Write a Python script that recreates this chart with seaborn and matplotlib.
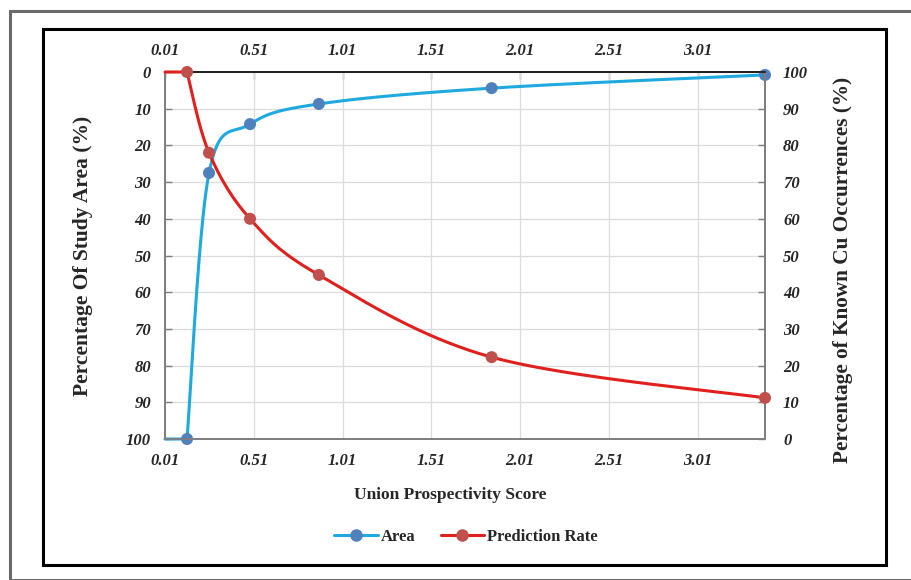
import numpy as np
import pandas as pd
import seaborn as sns
import matplotlib
matplotlib.use("Agg")
import matplotlib.pyplot as plt
from matplotlib.patches import Rectangle
from matplotlib.lines import Line2D

# ---- data ----
score = [0.01, 0.134, 0.258, 0.489, 0.877, 1.85, 3.39]
area_pct = [100, 100, 27.5, 14.2, 8.7, 4.4, 0.8]
pred_rate = [100, 100, 78, 60, 44.7, 22.3, 11.2]
x_ticks = [0.01, 0.51, 1.01, 1.51, 2.01, 2.51, 3.01]
x_ticklabels = ["0.01", "0.51", "1.01", "1.51", "2.01", "2.51", "3.01"]
y_ticks = list(range(0, 101, 10))

sns.set_theme(style="white")
plt.rcParams['font.family'] = ['Liberation Serif', 'DejaVu Serif']

W, H = 912, 580
fig = plt.figure(figsize=(W / 100, H / 100), dpi=100)

# outer frames
fig.patches.append(Rectangle((10 / W, 0), 1.2, 1 - 11 / H, transform=fig.transFigure,
                             fill=False, edgecolor="#6a6a6a", lw=2.2))
fig.patches.append(Rectangle((43 / W, 1 - 565 / H), (886 - 43) / W, (565 - 29) / H,
                             transform=fig.transFigure, fill=False, edgecolor="black", lw=2.2))

L, R, T, B = 165, 765, 72, 439
ax = fig.add_axes([L / W, 1 - B / H, (R - L) / W, (B - T) / H])
ax2 = ax.twinx()

xmin, xmax = 0.01, 3.39


def smooth(xs, ys, ylo, yhi, n=40):
    # straight first step, then Bezier smoothing in normalized axis space (Excel-like)
    px = (np.asarray(xs) - xmin) / (xmax - xmin)
    py = (np.asarray(ys, float) - ylo) / (yhi - ylo) * (B - T) / (R - L)
    P = np.column_stack([px, py])
    out = [P[:1]]
    Q = P[1:]
    m = len(Q)
    for i in range(m - 1):
        p0, p3 = Q[i], Q[i + 1]
        prev = Q[i - 1] if i > 0 else Q[i]
        nxt = Q[i + 2] if i + 2 < m else Q[i + 1]
        c1 = p0 + (p3 - prev) / 6
        c2 = p3 - (nxt - p0) / 6
        t = np.linspace(0, 1, n)[:, None]
        seg = ((1 - t) ** 3) * p0 + 3 * ((1 - t) ** 2) * t * c1 + 3 * (1 - t) * t ** 2 * c2 + t ** 3 * p3
        out.append(seg)
    S = np.vstack(out)
    sx = S[:, 0] * (xmax - xmin) + xmin
    sy = S[:, 1] * (R - L) / (B - T) * (yhi - ylo) + ylo
    return sx, sy


blue_line, blue_mk = "#1ea9df", "#4f81bd"
red_line, red_mk = "#e0201c", "#c0504d"

sx, sy = smooth(score, area_pct, 0, 100)
ax.plot(sx, sy, color=blue_line, lw=2.2, zorder=3, clip_on=False)
df_a = pd.DataFrame({"x": score[1:], "y": area_pct[1:]})
sns.scatterplot(data=df_a, x="x", y="y", ax=ax, color=blue_mk, s=75, edgecolor="none",
                zorder=4, clip_on=False, legend=False)

sx2, sy2 = smooth(score, pred_rate, 0, 100)
ax2.plot(sx2, sy2, color=red_line, lw=2.2, zorder=3, clip_on=False)
df_p = pd.DataFrame({"x": score[1:], "y": pred_rate[1:]})
sns.scatterplot(data=df_p, x="x", y="y", ax=ax2, color=red_mk, s=75, edgecolor="none",
                zorder=4, clip_on=False, legend=False)

ax.set_xlim(xmin, xmax)
ax.set_ylim(100, 0)
ax2.set_ylim(0, 100)

tick_font = dict(family='Liberation Serif', weight='bold', style='italic', size=12)

ax.set_xticks(x_ticks)
ax.set_xticklabels(x_ticklabels, fontdict=tick_font)
ax.set_yticks(y_ticks)
ax.set_yticklabels([str(v) for v in y_ticks], fontdict=tick_font)
ax2.set_yticks(y_ticks)
ax2.set_yticklabels([str(v) for v in y_ticks], fontdict=tick_font)
ax.set_xlabel("")
ax.set_ylabel("")
ax2.set_ylabel("")

top = ax.secondary_xaxis('top')
top.set_xticks(x_ticks)
top.set_xticklabels(x_ticklabels, fontdict=tick_font)
top.tick_params(direction='in', length=5, width=1, color="#7f7f7f", pad=9)
top.spines['top'].set_color("#222222")

ax.tick_params(axis='x', direction='in', length=5, width=1, color="#7f7f7f", pad=10)
ax.tick_params(axis='y', direction='in', length=5, width=1, color="#7f7f7f", pad=10)
ax2.tick_params(axis='y', direction='in', length=5, width=1, color="#7f7f7f", pad=13)

ax.grid(True, color="#dcdcdc", lw=0.9)
ax.set_axisbelow(True)
for sp in ['left', 'bottom', 'right']:
    ax.spines[sp].set_color("#7f7f7f")
    ax2.spines[sp].set_color("#7f7f7f")
ax.spines['top'].set_color("#222222")
ax2.spines['top'].set_color("#222222")
for a in (ax, ax2):
    for sp in a.spines.values():
        sp.set_linewidth(1.3)

fig.text(83 / W, 1 - 256 / H, "Percentage Of Study Area (%)", rotation=90,
         ha='center', va='center', family='Liberation Serif', weight='bold', size=15.5)
fig.text(843 / W, 1 - 270 / H, "Percentage of Known Cu Occurrences (%)", rotation=90,
         ha='center', va='center', family='Liberation Serif', weight='bold', size=15.3)
fig.text(450 / W, 1 - 495 / H, "Union Prospectivity Score", ha='center', va='center',
         family='Liberation Serif', weight='bold', size=12.5)

handles = [Line2D([], [], color=blue_line, lw=2.2, marker='o', markersize=8,
                  markerfacecolor=blue_mk, markeredgecolor=blue_mk),
           Line2D([], [], color=red_line, lw=2.2, marker='o', markersize=8,
                  markerfacecolor=red_mk, markeredgecolor=red_mk)]
fig.legend(handles, ["Area", "Prediction Rate"], loc='center', ncol=2,
           bbox_to_anchor=(466 / W, 1 - 537 / H), frameon=False,
           prop=dict(family='Liberation Serif', weight='bold', size=12),
           handlelength=2.6, handletextpad=0.2, columnspacing=1.5)

fig.savefig("out.png", dpi=100)
